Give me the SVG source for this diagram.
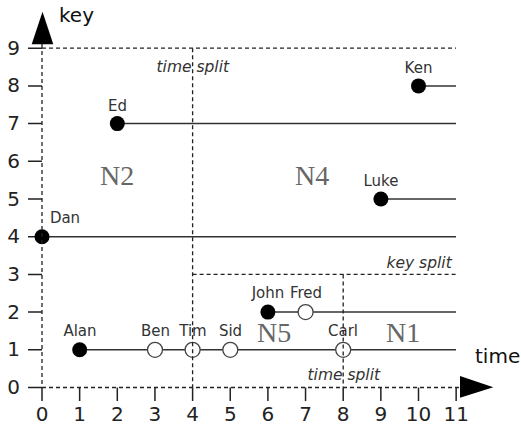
<svg xmlns="http://www.w3.org/2000/svg" width="521" height="428" viewBox="0 0 521 428">
<style>
.axis{fill:#111;font-family:"DejaVu Sans",sans-serif;font-size:20px}
.num{fill:#222;font-family:"DejaVu Sans",sans-serif;font-size:20px;text-anchor:middle}
.lbl{fill:#333;font-family:"DejaVu Sans",sans-serif;font-size:15px;text-anchor:middle}
.it{fill:#333;font-family:"DejaVu Sans",sans-serif;font-size:15.5px;font-style:italic}
.big{fill:#666;font-family:"Liberation Serif",serif;font-size:28px}
.rec{stroke:#333;stroke-width:1.5;fill:none}
.tick{stroke:#222;stroke-width:1.5;fill:none}
.dash{stroke:#222;stroke-width:1.3;stroke-dasharray:4,3;fill:none}
.full{fill:#000}
.open{fill:#fff;stroke:#444;stroke-width:1.3}
</style>
<rect width="521" height="428" fill="#fff"/>
<g id="records">
<line class="rec" x1="42" y1="236.7" x2="456" y2="236.7"/>
<line class="rec" x1="117.3" y1="123.6" x2="456" y2="123.6"/>
<line class="rec" x1="418.5" y1="85.9" x2="456" y2="85.9"/>
<line class="rec" x1="380.9" y1="199" x2="456" y2="199"/>
<line class="rec" x1="267.9" y1="312.1" x2="456" y2="312.1"/>
<line class="rec" x1="79.7" y1="349.8" x2="456" y2="349.8"/>
</g>
<g id="ticks">
<path class="tick" d="M28 387.5H42M28 349.8H42M28 312.1H42M28 274.4H42M28 236.7H42M28 199H42M28 161.3H42M28 123.6H42M28 85.9H42M28 48.2H42"/>
<path class="tick" d="M42 387.5V401M79.65 387.5V401M117.3 387.5V401M154.95 387.5V401M192.6 387.5V401M230.25 387.5V401M267.9 387.5V401M305.55 387.5V401M343.2 387.5V401M380.85 387.5V401M418.5 387.5V401M456.15 387.5V401"/>
</g>
<g id="Dan"><circle class="full" cx="42" cy="236.7" r="7.5"/><text class="lbl" x="65" y="223">Dan</text></g>
<g id="Ed"><circle class="full" cx="117.3" cy="123.6" r="7.5"/><text class="lbl" x="117.5" y="110.5">Ed</text></g>
<g id="Ken"><circle class="full" cx="418.5" cy="85.9" r="7.5"/><text class="lbl" x="418.5" y="73">Ken</text></g>
<g id="Luke"><circle class="full" cx="380.9" cy="199" r="7.5"/><text class="lbl" x="381" y="186">Luke</text></g>
<g id="John"><circle class="full" cx="267.9" cy="312.1" r="7.5"/><text class="lbl" x="268" y="297.5">John</text></g>
<g id="Fred"><circle class="open" cx="305.6" cy="312.1" r="7.5"/><text class="lbl" x="306" y="297.5">Fred</text></g>
<g id="Alan"><circle class="full" cx="79.7" cy="349.8" r="7.5"/><text class="lbl" x="80" y="336">Alan</text></g>
<g id="Ben"><circle class="open" cx="155" cy="349.8" r="7.5"/><text class="lbl" x="155.5" y="336">Ben</text></g>
<g id="Tim"><circle class="open" cx="192.6" cy="349.8" r="7.5"/><text class="lbl" x="193" y="336">Tim</text></g>
<g id="Sid"><circle class="open" cx="230.3" cy="349.8" r="7.5"/><text class="lbl" x="230.5" y="336">Sid</text></g>
<g id="Carl"><circle class="open" cx="343.2" cy="349.8" r="7.5"/><text class="lbl" x="343" y="336">Carl</text></g>
<g id="grid">
<line class="dash" x1="42" y1="44" x2="42" y2="387.5"/>
<line class="dash" x1="42" y1="387.5" x2="462" y2="387.5"/>
<line class="dash" x1="42" y1="48.2" x2="456" y2="48.2"/>
<line class="dash" x1="192.6" y1="48.2" x2="192.6" y2="387.5"/>
<line class="dash" x1="192.6" y1="274.4" x2="456" y2="274.4"/>
<line class="dash" x1="343.2" y1="274.4" x2="343.2" y2="387.5"/>
</g>
<g id="arrows">
<polygon points="42.5,11.7 31.7,44.3 53.3,44.3" fill="#000"/>
<polygon points="460,376 493.3,387.3 460,397.7" fill="#000"/>
</g>
<g id="axis-labels">
<text class="axis" x="59" y="21.5">key</text>
<text class="axis" x="475" y="363">time</text>
<text class="num" x="13.5" y="394">0</text>
<text class="num" x="13.5" y="356.3">1</text>
<text class="num" x="13.5" y="318.6">2</text>
<text class="num" x="13.5" y="280.9">3</text>
<text class="num" x="13.5" y="243.2">4</text>
<text class="num" x="13.5" y="205.5">5</text>
<text class="num" x="13.5" y="167.8">6</text>
<text class="num" x="13.5" y="130.1">7</text>
<text class="num" x="13.5" y="92.4">8</text>
<text class="num" x="13.5" y="54.7">9</text>
<text class="num" x="42" y="421">0</text>
<text class="num" x="79.65" y="421">1</text>
<text class="num" x="117.3" y="421">2</text>
<text class="num" x="154.95" y="421">3</text>
<text class="num" x="192.6" y="421">4</text>
<text class="num" x="230.25" y="421">5</text>
<text class="num" x="267.9" y="421">6</text>
<text class="num" x="305.55" y="421">7</text>
<text class="num" x="343.2" y="421">8</text>
<text class="num" x="380.85" y="421">9</text>
<text class="num" x="418.5" y="421">10</text>
<text class="num" x="456.15" y="421">11</text>
</g>
<g id="split-labels">
<text class="it" x="156.5" y="72.3">time split</text>
<text class="it" x="386.5" y="267.7">key split</text>
<text class="it" x="307.5" y="380">time split</text>
</g>
<g id="node-labels">
<text class="big" x="100" y="185">N2</text>
<text class="big" x="295" y="185">N4</text>
<text class="big" x="257" y="342">N5</text>
<text class="big" x="386" y="342">N1</text>
</g>
</svg>
